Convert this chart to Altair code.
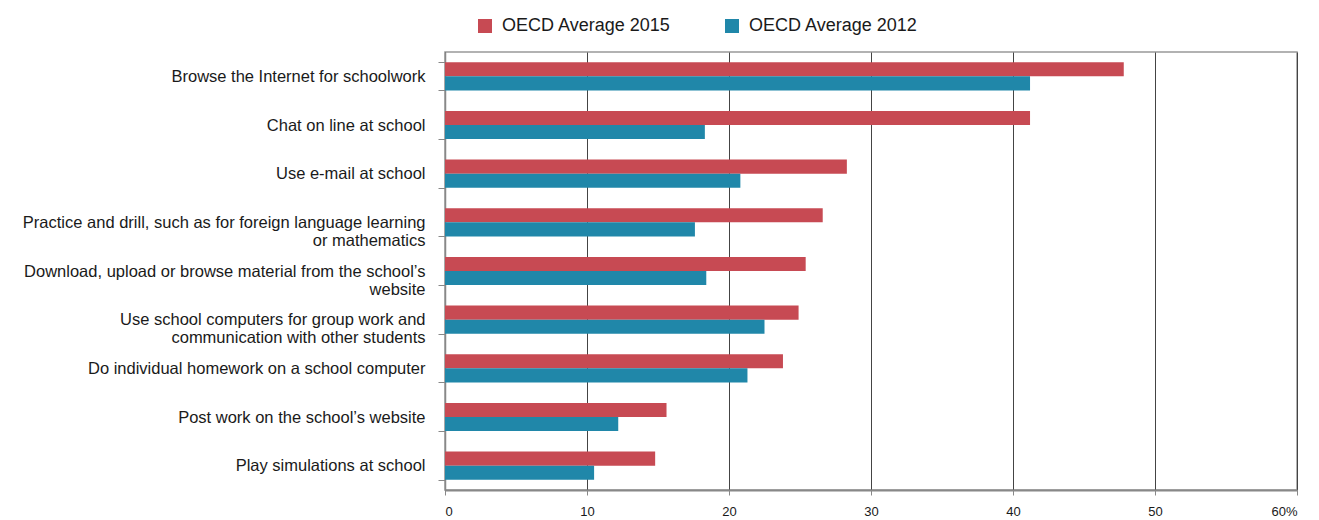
import altair as alt
import pandas as pd

categories = [
    "Browse the Internet for schoolwork",
    "Chat on line at school",
    "Use e-mail at school",
    "Practice and drill, such as for foreign language learning|or mathematics",
    "Download, upload or browse material from the school\u2019s|website",
    "Use school computers for group work and|communication with other students",
    "Do individual homework on a school computer",
    "Post work on the school\u2019s website",
    "Play simulations at school",
]
series = ["OECD Average 2015", "OECD Average 2012"]
v2015 = [47.8, 41.2, 28.3, 26.6, 25.4, 24.9, 23.8, 15.6, 14.8]
v2012 = [41.2, 18.3, 20.8, 17.6, 18.4, 22.5, 21.3, 12.2, 10.5]
x_ticks = [0, 10, 20, 30, 40, 50, 60]

rows = []
for c, a, b in zip(categories, v2015, v2012):
    rows.append({"cat": c, "series": series[0], "value": a})
    rows.append({"cat": c, "series": series[1], "value": b})
df = pd.DataFrame(rows)

FONT = "Liberation Sans"

chart = (
    alt.Chart(df)
    .mark_bar()
    .encode(
        y=alt.Y(
            "cat:N",
            sort=categories,
            title=None,
            scale=alt.Scale(paddingInner=0.42, paddingOuter=0.21),
            axis=alt.Axis(
                labelExpr="split(datum.label, '|')",
                labelLimit=600,
                labelFont=FONT,
                labelFontSize=16.5,
                labelColor="#1a1a1a",
                labelLineHeight=18,
                labelPadding=13,
                tickBand="extent",
                tickSize=7,
                tickColor="#888",
                domainColor="#888",
                domainWidth=1.5,
                grid=False,
            ),
        ),
        yOffset=alt.YOffset("series:N", sort=series),
        x=alt.X(
            "value:Q",
            title=None,
            scale=alt.Scale(domain=[0, 60], nice=False),
            axis=alt.Axis(
                values=x_ticks,
                labelExpr="datum.value == 60 ? '60%' : datum.label",
                labelFont=FONT,
                labelFontSize=13,
                labelColor="#1a1a1a",
                labelPadding=10,
                tickSize=5,
                tickColor="#888",
                domainColor="#888",
                domainWidth=2,
                grid=True,
                gridColor="#444",
                gridWidth=1,
            ),
        ),
        color=alt.Color(
            "series:N",
            sort=series,
            scale=alt.Scale(domain=series, range=["#C74A53", "#2087A9"]),
            legend=alt.Legend(
                title=None,
                orient="none",
                legendX=31,
                legendY=-35,
                direction="horizontal",
                symbolType="square",
                symbolSize=196,
                symbolStrokeWidth=0,
                labelFont=FONT,
                labelFontSize=18,
                labelLimit=400,
                labelColor="#1a1a1a",
                labelOffset=8,
                columnPadding=52,
                padding=0,
            ),
        ),
    )
    .properties(
        width=852,
        height=438,
        padding={"left": 14, "top": 9, "right": 5, "bottom": 5},
    )
    .configure_view(stroke="#999", strokeWidth=1.5)
)

chart.save("out.html", embed_options={"renderer": "svg", "actions": False})
